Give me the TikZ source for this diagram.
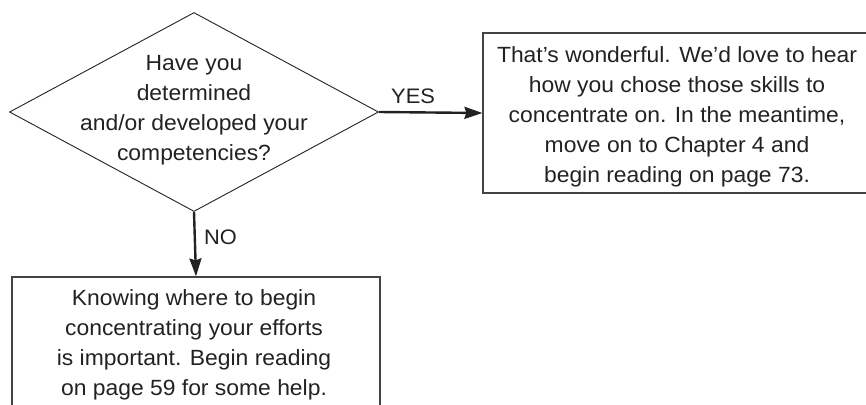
\documentclass[tikz,border=0pt]{standalone}
\usepackage{fontspec}
\setmainfont[FakeStretch=1.04]{Liberation Sans}
\usetikzlibrary{shapes.geometric,arrows.meta}
\definecolor{ink}{HTML}{222222}
\begin{document}
\begin{tikzpicture}[x=1pt,y=-1pt,
  txt/.style={text=ink,font=\fontsize{22}{30}\selectfont,align=center,inner sep=0},
  framebox/.style={draw=ink!85,line width=1.2pt,rectangle,inner sep=0},
  flow/.style={draw=ink,line width=2.4pt,-{Stealth[length=18pt,width=12pt,inset=2pt]}},
  tag/.style={text=ink,font=\fontsize{21}{24}\selectfont,inner sep=0}]
\useasboundingbox (0,0) rectangle (866,404);
\clip (0,0) rectangle (866,404);
% decision
\node[diamond,draw=ink,line width=0.9pt,minimum width=369pt,minimum height=199pt,inner sep=0] (q) at (194,112) {};
\node[txt] (qtext) at (194,110) {Have you\\determined\\and/or developed your\\competencies?};
% outcome boxes
\node[framebox,minimum width=388pt,minimum height=160pt] (yes) at (677,113) {};
\node[txt] (yestext) at (677,117) {That’s wonderful. We’d love to hear\\how you chose those skills to\\concentrate on. In the meantime,\\move on to Chapter 4 and\\begin reading on page 73.};
\node[framebox,minimum width=368pt,minimum height=133pt] (no) at (196,343.5) {};
\node[txt] (notext) at (194,345) {Knowing where to begin\\concentrating your efforts\\is important. Begin reading\\on page 59 for some help.};
% connectors
\draw[flow] (q.east) -- (yes.west) node[tag,pos=0.33,above=7pt] (yeslabel) {YES};
\draw[flow] (q.south) -- (no.north) node[tag,pos=0.4,right=8pt] (nolabel) {NO};
\end{tikzpicture}
\end{document}
